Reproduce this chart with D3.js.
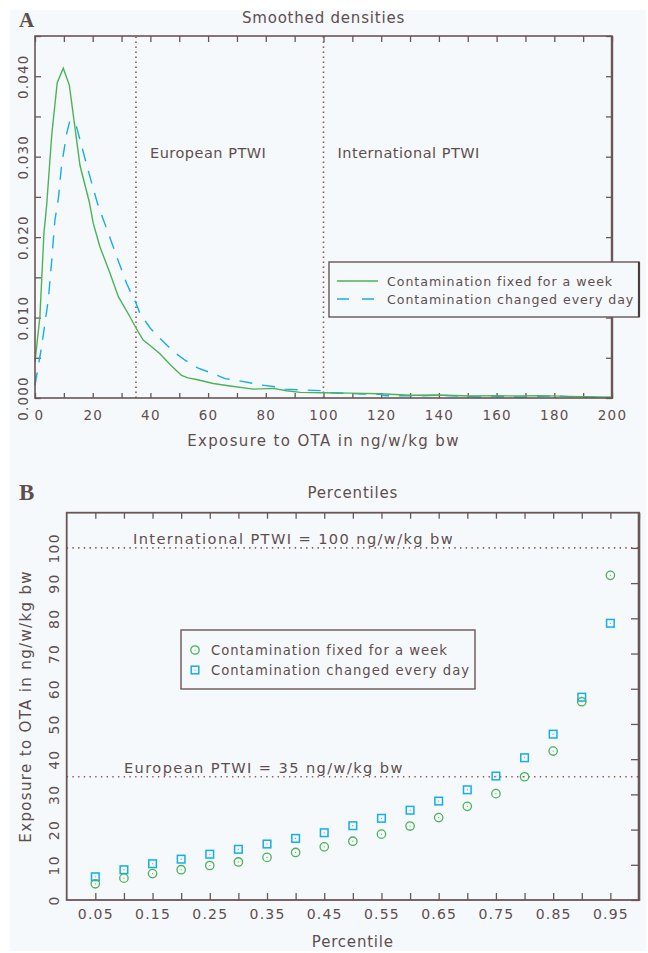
<!DOCTYPE html>
<html>
<head>
<meta charset="utf-8">
<script src="https://cdn.jsdelivr.net/npm/d3@7"></script>
<style>
  html, body { margin: 0; padding: 0; background: #ffffff; }
  svg { display: block; }
  text { font-family: "DejaVu Sans", "Liberation Sans", sans-serif; fill: #5e4e4e; }
</style>
</head>
<body>
<svg id="fig" width="648" height="953"></svg>
<script>
// ---- Panel A: smoothed densities of weekly OTA exposure ----
const fixedX = [0, 1.7, 3.1, 4.05, 5.8, 7.7, 9.8, 11.9, 15.6, 18.8, 20.2, 22.5, 26, 28.9, 32.9, 35, 37.5, 40, 43.3, 47, 50.8, 53, 56, 61.8, 67.6, 75.7, 82.6, 87.2, 91.9, 100, 109, 119.6, 130, 140, 150.8, 160, 168, 175, 185, 200];
const fixedD = [0.0045, 0.0101, 0.0205, 0.024, 0.0327, 0.0392, 0.0410, 0.0389, 0.0289, 0.0244, 0.0217, 0.0188, 0.0155, 0.0126, 0.0101, 0.0087, 0.0072, 0.0065, 0.0055, 0.0041, 0.0028, 0.0025, 0.0023, 0.0018, 0.0015, 0.0011, 0.0012, 0.0009, 0.0007, 0.00066, 0.0006, 0.00053, 0.00034, 0.00037, 0.00025, 0.00029, 0.00025, 0.0003, 0.0002, 0.0001];

const dailyX = [0, 0.3, 2.3, 4.6, 5.8, 6.9, 8.1, 9.2, 11, 12.1, 14.4, 17.3, 20.2, 21.9, 25.4, 28.3, 31.8, 35, 36.4, 39.9, 43.9, 47.9, 52, 56.6, 61.2, 65.9, 69.9, 74.5, 78.6, 83.2, 86.7, 100, 102, 113, 119.6, 121, 133.4, 140, 154, 161, 168, 179.6, 189, 200];
const dailyD = [0.0016, 0.0022, 0.0064, 0.0122, 0.0171, 0.0221, 0.0248, 0.0289, 0.0329, 0.0345, 0.0337, 0.0298, 0.026, 0.0239, 0.0205, 0.0176, 0.0142, 0.0118, 0.0105, 0.0087, 0.0072, 0.0058, 0.0047, 0.0037, 0.0031, 0.0024, 0.0022, 0.0019, 0.0016, 0.0014, 0.0011, 0.0009, 0.00066, 0.0005, 0.00046, 0.00029, 0.00025, 0.00034, 0.00012, 0.00016, 0.0001, 0.00025, 0.0001, 0.00005];

const densityTickLabels = [0, 0.01, 0.02, 0.03, 0.04];
const exposureTickLabels = [0, 20, 40, 60, 80, 100, 120, 140, 160, 180, 200];
const ptwiLimits = [35, 100];
const ptwiNames = ["European PTWI", "International PTWI"];

// ---- Panel B: exposure percentiles ----
const percentiles = [0.05, 0.10, 0.15, 0.20, 0.25, 0.30, 0.35, 0.40, 0.45, 0.50, 0.55, 0.60, 0.65, 0.70, 0.75, 0.80, 0.85, 0.90, 0.95];
const fixedPct = [4.6, 6.2, 7.5, 8.6, 9.8, 10.8, 12.1, 13.5, 15.1, 16.7, 18.7, 21.0, 23.4, 26.6, 30.2, 35.0, 42.3, 56.3, 92.2];
const dailyPct = [6.6, 8.6, 10.3, 11.6, 13.0, 14.4, 15.9, 17.5, 19.1, 21.1, 23.2, 25.5, 28.1, 31.3, 35.2, 40.4, 47.1, 57.6, 78.6];
const percentileTickLabels = [0.05, 0.15, 0.25, 0.35, 0.45, 0.55, 0.65, 0.75, 0.85, 0.95];
const exposureTicksB = [0, 10, 20, 30, 40, 50, 60, 70, 80, 90, 100];
const ptwiLabelsB = ["European PTWI = 35 ng/w/kg bw", "International PTWI = 100 ng/w/kg bw"];

const seriesNames = ["Contamination fixed for a week", "Contamination changed every day"];

const GREEN = "#4cb25a";
const BLUE = "#17ade8";
const INK = "#5e4e4e";
const FRAME = "#6a5656";
const DOT = "#8e5a55";
const PTWI_B = "#a87470";

const svg = d3.select("#fig");
svg.append("rect").attr("x", 10).attr("y", 10).attr("width", 636).attr("height", 941).attr("fill", "#f6f9fb");

// ============ Panel A ============
const xA = d3.scaleLinear().domain([0, 200]).range([35, 612]);
const yA = d3.scaleLinear().domain([0, 0.045]).range([398, 36]);
const gA = svg.append("g");

// ticks (inward) on all four sides
function innerTicks(g, axis, transform) {
  const a = g.append("g").attr("transform", transform).call(axis);
  a.select(".domain").remove();
  a.selectAll(".tick line").attr("stroke", FRAME).attr("stroke-width", 1.3);
  return a;
}
const fmt3 = d3.format(".3f");
const axLA = innerTicks(gA, d3.axisLeft(yA).tickValues(d3.range(0, 0.0451, 0.005)).tickSize(-6)
  .tickFormat(d => densityTickLabels.some(v => Math.abs(v - d) < 1e-9) ? fmt3(d) : ""), `translate(${xA(0)},0)`);
axLA.selectAll(".tick text")
  .attr("transform", "rotate(-90)").attr("x", 0).attr("y", -12.5).attr("dy", null)
  .attr("text-anchor", "middle").attr("dominant-baseline", "central")
  .style("font-size", "13.5px").style("font-family", "DejaVu Sans").style("letter-spacing", "1.2px").attr("fill", INK);
innerTicks(gA, d3.axisRight(yA).tickValues(d3.range(0, 0.0451, 0.005)).tickSize(-6).tickFormat(""), `translate(${xA(200)},0)`);
innerTicks(gA, d3.axisTop(xA).tickValues(d3.range(0, 201, 10)).tickSize(-6).tickFormat(""), `translate(0,${yA(0.045)})`);
const axBA = innerTicks(gA, d3.axisBottom(xA).tickValues(d3.range(0, 201, 10)).tickSize(-5)
  .tickFormat(d => exposureTickLabels.includes(d) ? String(d) : ""), `translate(0,${yA(0)})`);
axBA.selectAll(".tick text").attr("y", 12).attr("dy", "0.71em")
  .style("font-size", "13.5px").style("font-family", "DejaVu Sans").style("letter-spacing", "1.2px").attr("fill", INK)
  .attr("dx", d => d === 0 ? 4 : 0);

// PTWI thresholds
gA.selectAll("line.ptwi").data(ptwiLimits).join("line").attr("class", "ptwi")
  .attr("x1", d => xA(d)).attr("x2", d => xA(d)).attr("y1", yA(0)).attr("y2", yA(0.045))
  .attr("stroke", DOT).attr("stroke-width", 1.6).attr("stroke-dasharray", "1.4,3.6");
gA.selectAll("text.ptwi").data(ptwiLimits).join("text").attr("class", "ptwi")
  .attr("x", d => xA(d) + 14).attr("y", 158).text((d, i) => ptwiNames[i])
  .style("font-size", "14.5px").style("letter-spacing", "0.5px").attr("fill", INK);

// density curves
const lineA = d3.line().x(d => xA(d[0])).y(d => yA(d[1])).curve(d3.curveLinear);
gA.append("path").datum(dailyX.map((x, i) => [x, dailyD[i]])).attr("d", lineA)
  .attr("fill", "none").attr("stroke", BLUE).attr("stroke-width", 1.4).attr("stroke-dasharray", "13,10");
gA.append("path").datum(fixedX.map((x, i) => [x, fixedD[i]])).attr("d", lineA)
  .attr("fill", "none").attr("stroke", GREEN).attr("stroke-width", 1.4);

// frame
gA.append("rect").attr("x", xA(0)).attr("y", yA(0.045)).attr("width", xA(200) - xA(0)).attr("height", yA(0) - yA(0.045))
  .attr("fill", "none").attr("stroke", FRAME).attr("stroke-width", 1.6);
gA.append("line").attr("x1", xA(200)).attr("x2", xA(200)).attr("y1", yA(0.045)).attr("y2", yA(0) + 1)
  .attr("stroke", FRAME).attr("stroke-width", 2.4);

// legend
const legA = gA.append("g");
legA.append("rect").attr("x", 329).attr("y", 262).attr("width", 310).attr("height", 55)
  .attr("fill", "#f6f9fb").attr("stroke", FRAME).attr("stroke-width", 1.4);
legA.append("line").attr("x1", 639).attr("x2", 639).attr("y1", 262).attr("y2", 317).attr("stroke", "#4a3c3c").attr("stroke-width", 2.2);
legA.append("line").attr("x1", 337).attr("x2", 378).attr("y1", 281).attr("y2", 281).attr("stroke", GREEN).attr("stroke-width", 1.4);
legA.append("line").attr("x1", 337).attr("x2", 378).attr("y1", 299).attr("y2", 299).attr("stroke", BLUE).attr("stroke-width", 1.4).attr("stroke-dasharray", "12,13");
legA.selectAll("text").data(seriesNames).join("text")
  .attr("x", 387).attr("y", (d, i) => 285.5 + i * 18).text(d => d).style("font-size", "12.6px").style("letter-spacing", "0.95px").attr("fill", INK);

// titles
svg.append("text").attr("x", (xA(0) + xA(200)) / 2).attr("y", 22.5).attr("text-anchor", "middle")
  .text("Smoothed densities").style("font-size", "15px").style("letter-spacing", "0.8px");
svg.append("text").attr("x", (xA(0) + xA(200)) / 2).attr("y", 446).attr("text-anchor", "middle")
  .text("Exposure to OTA in ng/w/kg bw").style("font-size", "15px").style("letter-spacing", "1.35px");
svg.append("text").attr("x", 19).attr("y", 27).text("A")
  .style("font-family", "Liberation Serif").style("font-weight", "bold").style("font-size", "21px").attr("fill", "#3e3434");

// ============ Panel B ============
const xB = d3.scaleLinear().domain([0, 1]).range([66.7, 639]);
const yB = d3.scaleLinear().domain([0, 110]).range([900, 512.7]);
const gB = svg.append("g");

const axLB = gB.append("g").attr("transform", `translate(${xB(0)},0)`)
  .call(d3.axisLeft(yB).tickValues(exposureTicksB).tickSize(0));
axLB.select(".domain").remove();
axLB.selectAll(".tick text")
  .attr("transform", "rotate(-90)").attr("x", 0).attr("y", -12.7).attr("dy", null)
  .attr("text-anchor", "middle").attr("dominant-baseline", "central")
  .style("font-size", "14px").style("font-family", "DejaVu Sans").style("letter-spacing", "1.2px").attr("fill", INK);
innerTicks(gB, d3.axisRight(yB).tickValues(exposureTicksB).tickSize(-8).tickFormat(""), `translate(${xB(1)},0)`);
innerTicks(gB, d3.axisTop(xB).tickValues(d3.range(1, 21).map(k => k * 0.05)).tickSize(-6).tickFormat(""), `translate(0,${yB(110)})`);
const axBB = innerTicks(gB, d3.axisBottom(xB).tickValues(d3.range(1, 20).map(k => k * 0.05)).tickSize(-7)
  .tickFormat(d => percentileTickLabels.some(v => Math.abs(v - d) < 1e-9) ? d3.format(".2f")(d) : ""), `translate(0,${yB(0)})`);
axBB.selectAll(".tick text").attr("y", 9).attr("dy", "0.71em")
  .style("font-size", "14px").style("font-family", "DejaVu Sans").style("letter-spacing", "1.2px").attr("fill", INK);

// PTWI reference lines
gB.selectAll("line.ptwi").data(ptwiLimits).join("line").attr("class", "ptwi")
  .attr("x1", xB(0)).attr("x2", xB(1)).attr("y1", d => yB(d)).attr("y2", d => yB(d))
  .attr("stroke", DOT).attr("stroke-width", 1.6).attr("stroke-dasharray", "1.4,4.3");
gB.selectAll("text.ptwi").data(ptwiLimits).join("text").attr("class", "ptwi")
  .attr("x", (d, i) => i === 0 ? 124 : 133).attr("y", d => yB(d) - 4).text((d, i) => ptwiLabelsB[i])
  .style("font-size", "14.6px").style("letter-spacing", "1.4px").attr("fill", PTWI_B);

// percentile markers
const fixedPts = percentiles.map((p, i) => [p, fixedPct[i]]);
const dailyPts = percentiles.map((p, i) => [p, dailyPct[i]]);
gB.selectAll("rect.daily").data(dailyPts).join("rect").attr("class", "daily")
  .attr("x", d => xB(d[0]) - 3.8).attr("y", d => yB(d[1]) - 3.8).attr("width", 7.6).attr("height", 7.6)
  .attr("fill", "none").attr("stroke", BLUE).attr("stroke-width", 1.5);
gB.selectAll("circle.dailyc").data(dailyPts).join("circle").attr("class", "dailyc")
  .attr("cx", d => xB(d[0])).attr("cy", d => yB(d[1])).attr("r", 0.6).attr("fill", BLUE);
gB.selectAll("circle.fixed").data(fixedPts).join("circle").attr("class", "fixed")
  .attr("cx", d => xB(d[0])).attr("cy", d => yB(d[1])).attr("r", 4.2)
  .attr("fill", "none").attr("stroke", GREEN).attr("stroke-width", 1.3);
gB.selectAll("circle.fixedc").data(fixedPts).join("circle").attr("class", "fixedc")
  .attr("cx", d => xB(d[0])).attr("cy", d => yB(d[1])).attr("r", 0.6).attr("fill", GREEN);

// frame
gB.append("rect").attr("x", xB(0)).attr("y", yB(110)).attr("width", xB(1) - xB(0)).attr("height", yB(0) - yB(110))
  .attr("fill", "none").attr("stroke", FRAME).attr("stroke-width", 1.8);
gB.append("line").attr("x1", xB(1)).attr("x2", xB(1)).attr("y1", yB(110)).attr("y2", yB(0) + 1)
  .attr("stroke", FRAME).attr("stroke-width", 2.6);

// legend
const legB = gB.append("g");
legB.append("rect").attr("x", 181).attr("y", 630).attr("width", 294).attr("height", 59)
  .attr("fill", "#f6f9fb").attr("stroke", FRAME).attr("stroke-width", 1.4);
legB.append("circle").attr("cx", 195).attr("cy", 650).attr("r", 4.2).attr("fill", "none").attr("stroke", GREEN).attr("stroke-width", 1.3);
legB.append("circle").attr("cx", 195).attr("cy", 650).attr("r", 0.6).attr("fill", GREEN);
legB.append("rect").attr("x", 191.2).attr("y", 666.2).attr("width", 7.6).attr("height", 7.6).attr("fill", "none").attr("stroke", BLUE).attr("stroke-width", 1.5);
legB.append("circle").attr("cx", 195).attr("cy", 670).attr("r", 0.6).attr("fill", BLUE);
legB.selectAll("text").data(seriesNames).join("text")
  .attr("x", 211).attr("y", (d, i) => 654.5 + i * 20).text(d => d).style("font-size", "13.2px").style("letter-spacing", "1px").attr("fill", INK);

// titles
svg.append("text").attr("x", (xB(0) + xB(1)) / 2).attr("y", 497.5).attr("text-anchor", "middle")
  .text("Percentiles").style("font-size", "15px").style("letter-spacing", "0.8px");
svg.append("text").attr("x", (xB(0) + xB(1)) / 2).attr("y", 947).attr("text-anchor", "middle")
  .text("Percentile").style("font-size", "15px").style("letter-spacing", "0.8px");
svg.append("text").attr("transform", `translate(31,${(yB(0) + yB(110)) / 2}) rotate(-90)`)
  .attr("text-anchor", "middle").text("Exposure to OTA in ng/w/kg bw").style("font-size", "15px").style("letter-spacing", "1.35px");
svg.append("text").attr("x", 19).attr("y", 500).text("B")
  .style("font-family", "Liberation Serif").style("font-weight", "bold").style("font-size", "23px").attr("fill", "#3e3434");
</script>
</body>
</html>
